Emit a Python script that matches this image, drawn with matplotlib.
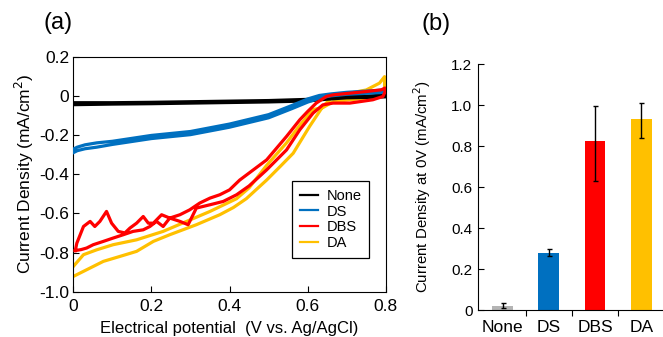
import numpy as np
import matplotlib
matplotlib.use("Agg")
import matplotlib.pyplot as plt

plt.rcParams['font.family'] = ['Liberation Sans', 'DejaVu Sans']
plt.rcParams['axes.unicode_minus'] = False

# ---- (a) cyclic voltammograms: potential (V) / current density (mA/cm2), each a closed loop
none_v = [0.0, 0.1, 0.2, 0.3, 0.4, 0.5, 0.6, 0.65, 0.7, 0.75, 0.8,
          0.8, 0.75, 0.7, 0.65, 0.6, 0.5, 0.4, 0.3, 0.2, 0.1, 0.0]
none_j = [-0.045, -0.042, -0.040, -0.037, -0.034, -0.031, -0.026, -0.017, -0.010, -0.008, -0.005,
          0.005, -0.002, -0.004, -0.010, -0.018, -0.024, -0.027, -0.030, -0.033, -0.035, -0.035]

ds_v = [0.0, 0.01, 0.03, 0.06, 0.1, 0.2, 0.3, 0.4, 0.5, 0.56, 0.6, 0.63, 0.66, 0.7, 0.8,
        0.8, 0.7, 0.66, 0.63, 0.6, 0.56, 0.5, 0.4, 0.3, 0.2, 0.1, 0.06, 0.03, 0.01, 0.0]
ds_j = [-0.290, -0.280, -0.270, -0.262, -0.248, -0.218, -0.198, -0.160, -0.112, -0.065, -0.032, -0.012, 0.000, 0.008, 0.018,
        0.030, 0.018, 0.010, 0.002, -0.016, -0.049, -0.096, -0.144, -0.182, -0.202, -0.232, -0.240, -0.250, -0.262, -0.272]

dbs_v = [0.005, 0.02, 0.034, 0.051, 0.077, 0.102, 0.128, 0.153, 0.179, 0.196, 0.213, 0.23, 0.247, 0.273, 0.294,
         0.315, 0.35, 0.384, 0.418, 0.45, 0.495, 0.546, 0.58, 0.614, 0.639, 0.665, 0.708, 0.767, 0.793, 0.798,
         0.798, 0.789, 0.75, 0.7, 0.665, 0.648, 0.622, 0.6, 0.58, 0.546, 0.495, 0.426, 0.4, 0.375, 0.35, 0.324,
         0.298, 0.273, 0.247, 0.226, 0.205, 0.192, 0.179, 0.162, 0.145, 0.132, 0.115, 0.098, 0.085, 0.068,
         0.055, 0.043, 0.026, 0.009, 0.005]
dbs_j = [-0.790, -0.785, -0.777, -0.760, -0.743, -0.726, -0.709, -0.692, -0.684, -0.667, -0.641, -0.667, -0.624, -0.641, -0.658,
         -0.573, -0.556, -0.539, -0.505, -0.460, -0.378, -0.276, -0.173, -0.088, -0.046, -0.037, -0.037, -0.020, -0.003, 0.020,
         0.040, 0.031, 0.022, 0.012, 0.005, -0.003, -0.037, -0.080, -0.122, -0.207, -0.327, -0.430, -0.480, -0.505, -0.522, -0.547,
         -0.582, -0.607, -0.624, -0.607, -0.650, -0.650, -0.616, -0.650, -0.675, -0.700, -0.692, -0.650, -0.590, -0.641,
         -0.667, -0.641, -0.667, -0.752, -0.790]

da_v = [0.0, 0.034, 0.077, 0.119, 0.162, 0.205, 0.247, 0.315, 0.375, 0.41, 0.443, 0.495, 0.53, 0.563, 0.605,
        0.639, 0.665, 0.708, 0.75, 0.784, 0.797,
        0.797, 0.75, 0.708, 0.665, 0.639, 0.614, 0.58, 0.546, 0.495, 0.45, 0.418, 0.35, 0.29, 0.23, 0.162,
        0.102, 0.06, 0.026, 0.0]
da_j = [-0.922, -0.888, -0.845, -0.820, -0.794, -0.743, -0.709, -0.658, -0.607, -0.570, -0.525, -0.430, -0.360, -0.293, -0.156,
        -0.054, -0.003, 0.014, 0.030, 0.065, 0.098,
        0.000, -0.012, -0.020, -0.030, -0.060, -0.070, -0.150, -0.240, -0.355, -0.470, -0.525, -0.590, -0.641, -0.692, -0.735,
        -0.760, -0.786, -0.811, -0.871]

# ---- (b) current density at 0 V
samples = ['None', 'DS', 'DBS', 'DA']
j0 = [0.021, 0.280, 0.825, 0.930]
j0_err_lo = [0.010, 0.017, 0.195, 0.093]
j0_err_hi = [0.012, 0.016, 0.171, 0.078]

colors = {'None': '#000000', 'DS': '#0070C0', 'DBS': '#FF0000', 'DA': '#FFC000'}
bar_colors = ['#B4B4B4', '#0070C0', '#FF0000', '#FFC000']

fig = plt.figure(figsize=(6.63, 3.37), dpi=100)

# panel (a)
ax = fig.add_axes([0.1106, 0.1344, 0.4712, 0.6974])
ax.plot(none_v, none_j, color=colors['None'], lw=2.3, label='None', zorder=3)
ax.plot(ds_v, ds_j, color=colors['DS'], lw=2.3, label='DS', zorder=3)
ax.plot(da_v, da_j, color=colors['DA'], lw=2.3, zorder=2)
ax.plot(dbs_v, dbs_j, color=colors['DBS'], lw=2.3, label='DBS', zorder=4)
ax.plot([], [], color=colors['DA'], lw=2.3, label='DA')
ax.set_xlim(0, 0.8)
ax.set_ylim(-1.0, 0.2)
xt = [0, 0.2, 0.4, 0.6, 0.8]
yt = [-1.0, -0.8, -0.6, -0.4, -0.2, 0, 0.2]
ax.set_xticks(xt)
ax.set_xticklabels(['0', '0.2', '0.4', '0.6', '0.8'])
ax.set_yticks(yt)
ax.set_yticklabels(['-1.0', '-0.8', '-0.6', '-0.4', '-0.2', '0', '0.2'])
ax.tick_params(direction='in', length=4, width=0.8, labelsize=12.5, pad=3)
ax.tick_params(axis='x', pad=5)
ax.set_xlabel('Electrical potential  (V vs. Ag/AgCl)', fontsize=12, labelpad=5)
ax.set_ylabel('Current Density (mA/cm$^2$)', fontsize=12.5, labelpad=2)
leg = ax.legend(loc='lower left', bbox_to_anchor=(0.70, 0.143), borderaxespad=0,
                fontsize=10.5, handlelength=1.2, handletextpad=0.6, labelspacing=0.12,
                fancybox=False, edgecolor='black', framealpha=1, borderpad=0.55)
leg.get_frame().set_linewidth(0.9)
for ln in leg.get_lines():
    ln.set_linewidth(1.6)

# panel (b)
bx = fig.add_axes([0.721, 0.0801, 0.279, 0.7299])
x = np.arange(len(samples))
bx.bar(x, j0, width=0.45, color=bar_colors, zorder=2)
bx.errorbar(x, j0, yerr=[j0_err_lo, j0_err_hi], fmt='none', ecolor='black',
            elinewidth=1.0, capsize=1.8, capthick=1.0, zorder=3)
bx.set_xlim(-0.53, 3.47)
bx.set_ylim(0, 1.2)
bx.set_yticks([0, 0.2, 0.4, 0.6, 0.8, 1.0, 1.2])
bx.set_yticklabels(['0', '0.2', '0.4', '0.6', '0.8', '1.0', '1.2'])
bx.set_xticks([0.5, 1.5, 2.5])
bx.set_xticklabels([])
bx.set_xticks(x, minor=True)
bx.set_xticklabels(samples, minor=True)
bx.tick_params(axis='x', which='major', direction='out', length=4, width=0.8)
bx.tick_params(axis='x', which='minor', length=0, labelsize=12.5, pad=7)
bx.tick_params(axis='y', direction='in', length=4, width=0.8, labelsize=11, pad=4)
bx.spines['top'].set_visible(False)
bx.spines['right'].set_visible(False)
bx.set_ylabel('Current Density at 0V (mA/cm$^2$)', fontsize=10.8, labelpad=13)

fig.text(0.087, 0.932, '(a)', fontsize=17, ha='center', va='center')
fig.text(0.658, 0.929, '(b)', fontsize=17, ha='center', va='center')

fig.savefig('out.png', dpi=100)
